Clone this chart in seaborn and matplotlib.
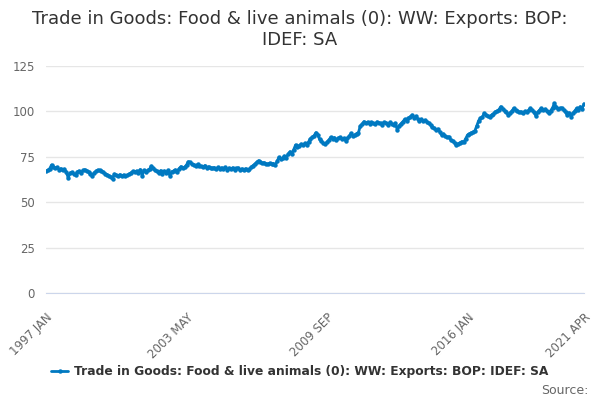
import matplotlib
matplotlib.use("Agg")
import matplotlib.pyplot as plt
import numpy as np
import pandas as pd
import seaborn as sns

# monthly values, 1997 JAN .. 2021 APR
values_1997 = [67.0, 67.5, 68.5, 70.5, 69.5, 68.8, 69.2, 68.0, 68.5, 67.8, 68.2, 66.5]
values_1998 = [63.5, 66.0, 66.5, 65.5, 65.0, 66.8, 67.2, 66.2, 67.5, 67.9, 67.3, 66.7]
values_1999 = [65.8, 64.5, 66.2, 67.0, 67.7, 67.5, 67.0, 66.6, 65.8, 65.2, 64.6, 64.0]
values_2000 = [62.8, 65.5, 65.0, 64.6, 65.2, 64.5, 65.0, 64.2, 64.8, 65.5, 66.2, 67.0]
values_2001 = [66.5, 67.2, 66.0, 68.0, 64.6, 67.5, 66.8, 67.5, 68.2, 69.9, 68.6, 67.5]
values_2002 = [67.0, 66.0, 67.4, 65.8, 67.2, 66.2, 67.6, 64.6, 66.8, 67.2, 67.8, 66.8]
values_2003 = [68.5, 69.6, 69.0, 69.3, 70.5, 72.3, 71.9, 71.0, 70.6, 70.2, 70.8, 70.0]
values_2004 = [69.8, 69.5, 70.2, 69.0, 69.6, 68.8, 68.6, 69.1, 68.4, 69.2, 68.5, 69.0]
values_2005 = [68.3, 69.2, 68.0, 68.8, 68.2, 69.0, 67.8, 68.6, 68.9, 67.7, 68.4, 68.0]
values_2006 = [68.5, 67.9, 68.2, 69.3, 70.2, 71.0, 72.0, 72.9, 72.2, 71.5, 71.8, 71.2]
values_2007 = [71.0, 71.5, 70.9, 71.3, 70.5, 72.5, 74.7, 73.6, 74.2, 75.4, 74.6, 76.5]
values_2008 = [77.8, 76.8, 79.0, 81.5, 80.6, 81.2, 82.0, 81.4, 82.4, 81.6, 83.2, 85.0]
values_2009 = [85.7, 86.6, 88.3, 87.2, 84.6, 83.6, 82.6, 82.0, 83.2, 84.2, 85.7, 84.9]
values_2010 = [85.6, 84.2, 85.2, 85.7, 84.6, 85.1, 83.9, 85.2, 86.2, 87.9, 86.6, 87.1]
values_2011 = [87.8, 88.3, 92.0, 93.0, 94.4, 93.6, 94.1, 93.2, 94.0, 93.4, 92.9, 94.2]
values_2012 = [93.8, 93.4, 92.7, 94.0, 93.6, 92.6, 93.9, 93.1, 92.4, 93.5, 89.8, 92.1]
values_2013 = [93.2, 94.3, 95.6, 94.8, 96.2, 97.0, 98.0, 96.6, 97.2, 96.0, 94.9, 95.6]
values_2014 = [94.6, 95.1, 94.4, 93.4, 92.5, 91.4, 90.6, 89.8, 90.3, 88.6, 87.0, 87.6]
values_2015 = [86.4, 85.7, 86.0, 84.2, 83.6, 82.6, 81.5, 82.2, 82.8, 83.4, 83.0, 85.0]
values_2016 = [87.0, 87.6, 88.2, 88.6, 89.4, 92.0, 94.9, 96.2, 96.8, 98.9, 98.2, 97.4]
values_2017 = [97.1, 98.0, 98.6, 99.8, 100.2, 101.0, 102.6, 101.2, 100.4, 99.6, 98.0, 99.2]
values_2018 = [100.2, 101.7, 100.6, 100.0, 99.6, 99.8, 99.3, 100.0, 99.8, 100.6, 101.7, 100.5]
values_2019 = [99.4, 97.5, 99.6, 100.8, 101.7, 100.6, 101.2, 100.2, 98.9, 100.4, 102.0, 104.4]
values_2020 = [102.2, 101.5, 101.7, 101.9, 100.8, 99.5, 98.0, 99.2, 97.1, 99.0, 100.2, 101.7]
values_2021 = [100.8, 102.6, 101.2, 104.2]

values = (values_1997 + values_1998 + values_1999 + values_2000 + values_2001
          + values_2002 + values_2003 + values_2004 + values_2005 + values_2006
          + values_2007 + values_2008 + values_2009 + values_2010 + values_2011
          + values_2012 + values_2013 + values_2014 + values_2015 + values_2016
          + values_2017 + values_2018 + values_2019 + values_2020 + values_2021)

months = pd.date_range("1997-01-01", periods=len(values), freq="MS")
month_labels = [d.strftime("%Y %b").upper() for d in months]
label_months = ["1997 JAN", "2003 MAY", "2009 SEP", "2016 JAN", "2021 APR"]
y_ticks = [0, 25, 50, 75, 100, 125]

series_name = "Trade in Goods: Food & live animals (0): WW: Exports: BOP: IDEF: SA"
title = "Trade in Goods: Food & live animals (0): WW: Exports: BOP:\nIDEF: SA"

df = pd.DataFrame({"idx": np.arange(len(values)), "value": values})

sns.set_style("white")
plt.rcParams['font.family'] = ['DejaVu Sans']

blue = "#0079c1"
fig = plt.figure(figsize=(6, 4), dpi=100)
ax = fig.add_axes([46 / 600, 1 - 293 / 400, 538 / 600, 227 / 400])

sns.lineplot(data=df, x="idx", y="value", ax=ax, color=blue, linewidth=2,
             marker="o", markersize=3.2, markeredgewidth=0, label=series_name)

ax.set_xlim(0, len(values) - 1)
ax.set_ylim(0, 125)
ax.set_yticks(y_ticks)
ax.set_yticklabels([str(t) for t in y_ticks])
ax.yaxis.grid(True, color="#e6e6e6", linewidth=1)
ax.set_axisbelow(True)

# minor ticks every 19 months plus the last one, labels every 4th
tick_pos = list(range(0, len(values), 19)) + [len(values) - 1]
ax.set_xticks(tick_pos)
ax.set_xticklabels([month_labels[p] if month_labels[p] in label_months else "" for p in tick_pos],
                   rotation=45, ha="right", rotation_mode="anchor")

for s in ["top", "right", "left"]:
    ax.spines[s].set_visible(False)
ax.spines["bottom"].set_color("#ccd6eb")
ax.tick_params(axis="x", colors="#ccd6eb", length=10, width=1, labelcolor="#666666",
               labelsize=8.5, pad=3)
ax.tick_params(axis="y", length=0, labelcolor="#666666", labelsize=8.5, pad=8)
ax.set_xlabel("")
ax.set_ylabel("")

fig.suptitle(title, x=0.5, y=0.975, fontsize=13, color="#333333", va="top")

ax.legend_.remove()
fig.legend(loc="center", bbox_to_anchor=(0.5, 1 - 372 / 400), frameon=False,
           prop={"size": 8.8, "weight": "bold"}, labelcolor="#333333",
           handlelength=1.4, handletextpad=0.5)

fig.text(588 / 600, 1 - 390 / 400, "Source:", ha="right", va="center",
         fontsize=9, color="#666666")

fig.savefig("out.png", dpi=100)
